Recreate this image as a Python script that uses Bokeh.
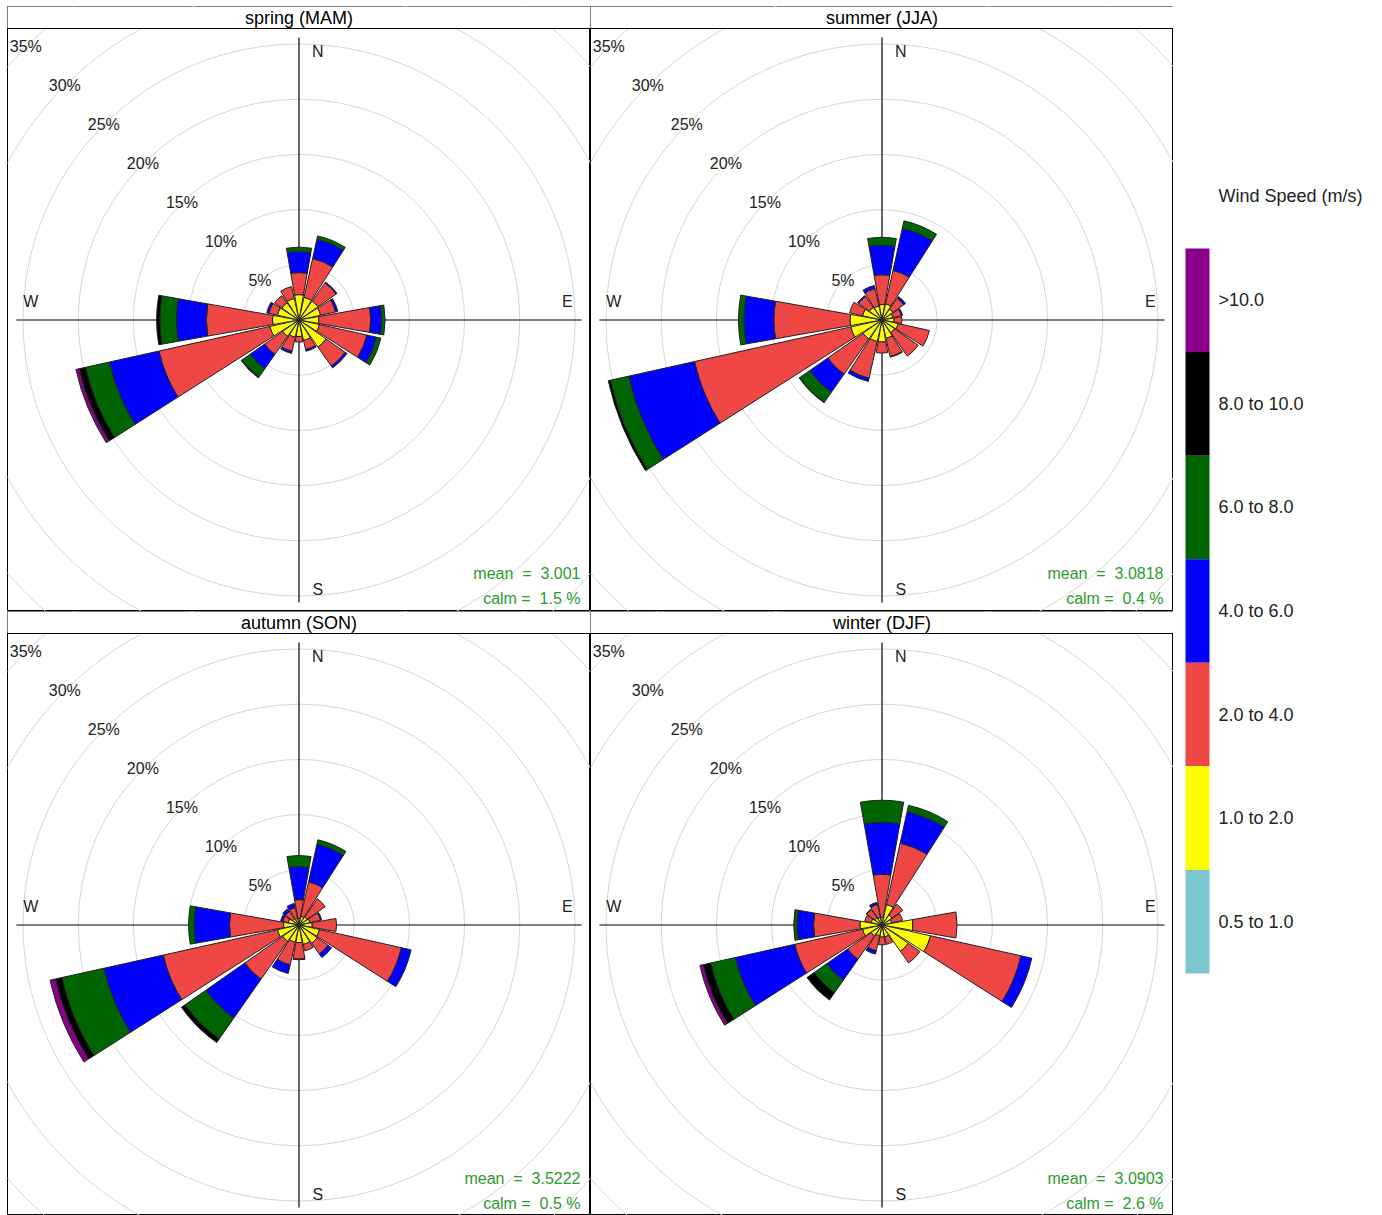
import math
from bokeh.plotting import figure
from bokeh.layouts import row, column
from bokeh.models import Range1d, ColumnDataSource
from bokeh.core.properties import value
from bokeh.embed import file_html
from bokeh.resources import INLINE

# ---------------- data ----------------
DIRECTIONS = ["N", "NNE", "NE", "ENE", "E", "ESE", "SE", "SSE",
              "S", "SSW", "SW", "WSW", "W", "WNW", "NW", "NNW"]
DIR_DEG = [0.0, 22.5, 45.0, 67.5, 90.0, 112.5, 135.0, 157.5,
           180.0, 202.5, 225.0, 247.5, 270.0, 292.5, 315.0, 337.5]
SPEED_BINS = ["0.5 to 1.0", "1.0 to 2.0", "2.0 to 4.0", "4.0 to 6.0",
              "6.0 to 8.0", "8.0 to 10.0", ">10.0"]
BIN_COLORS = ["#7BC6CF", "#FFFF00", "#EF4646", "#0000FF", "#006400", "#000000", "#8B008B"]

SEASONS = ["spring (MAM)", "summer (JJA)", "autumn (SON)", "winter (DJF)"]
MEANS = ["3.001", "3.0818", "3.5222", "3.0903"]
CALMS = ["1.5", "0.4", "0.5", "2.6"]

# frequency (%) per speed bin (rows) and direction (columns)
spring = [
    [0.2, 0.2, 0.2, 0.2, 0.2, 0.2, 0.2, 0.2, 0.2, 0.2, 0.2, 0.2, 0.2, 0.2, 0.2, 0.2],
    [2.1, 1.9, 1.9, 1.8, 1.6, 1.7, 2.8, 1.7, 1.3, 1.4, 1.6, 2.5, 2.2, 1.8, 1.7, 1.8],
    [2.0, 3.6, 2.0, 1.4, 4.7, 4.4, 2.1, 0.85, 0.5, 1.3, 2.0, 10.3, 6.0, 0.8, 0.8, 1.1],
    [1.9, 1.8, 0.1, 0.2, 1.0, 0.9, 0.2, 0.15, 0.0, 0.2, 1.6, 4.6, 2.7, 0.2, 0.0, 0.0],
    [0.4, 0.3, 0.0, 0.0, 0.3, 0.4, 0.0, 0.0, 0.0, 0.0, 0.9, 2.2, 1.5, 0.0, 0.0, 0.0],
    [0.0, 0.0, 0.0, 0.0, 0.0, 0.0, 0.0, 0.0, 0.0, 0.0, 0.1, 0.6, 0.3, 0.0, 0.0, 0.0],
    [0.0, 0.0, 0.0, 0.0, 0.0, 0.0, 0.0, 0.0, 0.0, 0.0, 0.0, 0.3, 0.0, 0.0, 0.0, 0.0],
]
summer = [
    [0.2, 0.2, 0.2, 0.2, 0.2, 0.2, 0.2, 0.2, 0.2, 0.2, 0.2, 0.2, 0.2, 0.2, 0.2, 0.2],
    [1.2, 1.3, 1.0, 0.8, 0.9, 1.3, 1.2, 1.5, 1.8, 1.8, 1.9, 2.7, 2.7, 1.6, 1.2, 1.1],
    [2.7, 3.1, 1.2, 0.8, 0.7, 2.9, 2.6, 1.7, 1.0, 3.4, 3.9, 14.5, 6.9, 1.2, 1.2, 1.6],
    [2.7, 3.9, 0.2, 0.1, 0.0, 0.0, 0.0, 0.05, 0.0, 0.3, 2.0, 6.1, 2.7, 0.0, 0.1, 0.3],
    [0.7, 0.7, 0.0, 0.0, 0.0, 0.0, 0.0, 0.0, 0.0, 0.0, 1.1, 1.7, 0.5, 0.0, 0.0, 0.0],
    [0.0, 0.0, 0.0, 0.0, 0.0, 0.0, 0.0, 0.0, 0.0, 0.0, 0.05, 0.2, 0.0, 0.0, 0.0, 0.0],
    [0.0, 0.0, 0.0, 0.0, 0.0, 0.0, 0.0, 0.0, 0.0, 0.0, 0.0, 0.0, 0.0, 0.0, 0.0, 0.0],
]
autumn = [
    [0.2, 0.2, 0.2, 0.2, 0.2, 0.2, 0.2, 0.2, 0.2, 0.2, 0.2, 0.2, 0.2, 0.2, 0.2, 0.2],
    [0.4, 0.6, 0.7, 0.8, 1.0, 1.7, 1.8, 1.6, 1.4, 1.4, 1.6, 1.8, 1.2, 0.8, 0.5, 0.4],
    [1.7, 3.2, 2.0, 1.0, 2.2, 7.6, 1.2, 0.6, 1.5, 2.1, 4.2, 10.6, 4.9, 0.5, 0.8, 1.0],
    [3.0, 3.5, 0.0, 0.1, 0.0, 0.9, 0.4, 0.0, 0.05, 0.8, 4.3, 5.5, 3.2, 0.2, 0.3, 0.4],
    [1.0, 0.4, 0.0, 0.0, 0.0, 0.0, 0.0, 0.0, 0.0, 0.0, 2.3, 3.9, 0.5, 0.0, 0.0, 0.0],
    [0.0, 0.0, 0.0, 0.0, 0.0, 0.0, 0.0, 0.0, 0.0, 0.0, 0.4, 0.6, 0.0, 0.0, 0.0, 0.0],
    [0.0, 0.0, 0.0, 0.0, 0.0, 0.0, 0.0, 0.0, 0.0, 0.0, 0.0, 0.5, 0.0, 0.0, 0.0, 0.0],
]
winter = [
    [0.2, 0.2, 0.2, 0.2, 0.2, 0.2, 0.2, 0.2, 0.2, 0.2, 0.2, 0.2, 0.2, 0.2, 0.2, 0.2],
    [0.5, 1.7, 0.9, 0.7, 2.6, 4.3, 2.7, 0.9, 0.9, 0.8, 1.0, 1.6, 1.8, 0.8, 0.6, 0.5],
    [3.9, 5.7, 1.2, 1.0, 4.0, 8.4, 1.3, 0.7, 0.7, 1.4, 2.6, 6.3, 4.2, 0.6, 0.9, 1.2],
    [4.7, 2.9, 0.0, 0.0, 0.0, 1.0, 0.0, 0.0, 0.0, 0.3, 2.3, 5.5, 1.5, 0.0, 0.05, 0.2],
    [2.0, 0.6, 0.0, 0.0, 0.0, 0.0, 0.0, 0.0, 0.0, 0.0, 1.4, 2.3, 0.3, 0.0, 0.0, 0.0],
    [0.0, 0.0, 0.0, 0.0, 0.0, 0.0, 0.0, 0.0, 0.0, 0.0, 0.8, 0.7, 0.0, 0.0, 0.0, 0.0],
    [0.0, 0.0, 0.0, 0.0, 0.0, 0.0, 0.0, 0.0, 0.0, 0.0, 0.0, 0.3, 0.0, 0.0, 0.0, 0.0],
]
SEASON_DATA = [spring, summer, autumn, winter]

RINGS = [5, 10, 15, 20, 25, 30, 35]
RING_LABELS = ["5%", "10%", "15%", "20%", "25%", "30%", "35%"]

# ---------------- layout / style ----------------
PX = 11.04          # pixels per percent
PANEL = 583         # panel size (px)
STRIP = 22          # strip height (px)
HALF_WEDGE = 10.0   # degrees
AXIS_LEN = 25.6     # axis half length (%)
FONT = value("Liberation Sans")
RING_COLOR = "#D6D6D6"
TXT_GREEN = "#2E9B2E"
TOP_MARGIN = 6
LEFT_MARGIN = 7


def make_panel(title, freqs, mean, calm, height):
    half = PANEL / 2 / PX
    top_px = STRIP + PANEL / 2
    p = figure(width=PANEL, height=height, output_backend="svg", toolbar_location=None,
               x_range=Range1d(-half, half),
               y_range=Range1d(-(height - top_px) / PX, top_px / PX),
               min_border=0, outline_line_color="black", outline_line_width=1)
    p.axis.visible = False
    p.grid.visible = False
    p.background_fill_color = "white"
    p.border_fill_color = "white"

    # rings
    p.circle(x=[0] * len(RINGS), y=[0] * len(RINGS), radius=RINGS,
             fill_color=None, line_color=RING_COLOR, line_width=1)
    # cross axes
    p.segment(x0=[-AXIS_LEN, 0], y0=[0, -AXIS_LEN], x1=[AXIS_LEN, 0], y1=[0, AXIS_LEN],
              line_color="black", line_width=1.2)

    # wedges
    inner, outer, start, end, cols = [], [], [], [], []
    for i, d in enumerate(DIR_DEG):
        cum = 0.0
        for b in range(len(SPEED_BINS)):
            v = freqs[b][i]
            if v <= 0:
                continue
            inner.append(cum)
            outer.append(cum + v)
            cum += v
            start.append(math.radians(90 - d - HALF_WEDGE))
            end.append(math.radians(90 - d + HALF_WEDGE))
            cols.append(BIN_COLORS[b])
    src = ColumnDataSource(dict(x=[0] * len(inner), y=[0] * len(inner), ir=inner, orr=outer,
                                sa=start, ea=end, c=cols))
    p.annular_wedge(x="x", y="y", inner_radius="ir", outer_radius="orr",
                    start_angle="sa", end_angle="ea", fill_color="c",
                    line_color="#222222", line_width=1, source=src)

    # ring labels along NW diagonal
    k = math.sqrt(0.5)
    p.text(x=[-r * k for r in RINGS], y=[r * k for r in RINGS], text=RING_LABELS,
           text_font=FONT, text_font_size="16px", text_color="#222222",
           text_align="center", text_baseline="middle")

    # compass labels
    off = 1.7
    far = 24.3
    p.text(x=[off, far, off, -far], y=[far, off, -far - 0.1, off], text=["N", "E", "S", "W"],
           text_font=FONT, text_font_size="16px", text_color="#222222",
           text_align="center", text_baseline="middle")

    # mean / calm
    p.text(x=[25.5, 25.5], y=[-23.0, -25.2],
           text=["mean\u00a0\u00a0=\u00a0\u00a0" + mean, "calm\u00a0=\u00a0\u00a0" + calm + "\u00a0%"],
           text_font=FONT, text_font_size="16px", text_color=TXT_GREEN,
           text_align="right", text_baseline="middle")

    # strip with title
    p.quad(left=[-half - 1], right=[half + 1], bottom=[PANEL / 2 / PX], top=[top_px / PX + 1],
           fill_color="white", line_color="black", line_width=1)
    p.text(x=[0], y=[(PANEL / 2 + STRIP / 2) / PX], text=[title],
           text_font=FONT, text_font_size="18px", text_color="black",
           text_align="center", text_baseline="middle")
    return p


TOTAL_H = 1215 - TOP_MARGIN
TOP_H = STRIP + PANEL
BOT_H = TOTAL_H - TOP_H

panels = []
for idx, (t, f, m, c) in enumerate(zip(SEASONS, SEASON_DATA, MEANS, CALMS)):
    panels.append(make_panel(t, f, m, c, TOP_H if idx < 2 else BOT_H))

# ---------------- colour key ----------------
CB_W = 1382 - LEFT_MARGIN - 2 * PANEL
cb = figure(width=CB_W, height=TOTAL_H, output_backend="svg", toolbar_location=None,
            x_range=Range1d(0, CB_W), y_range=Range1d(TOTAL_H, 0),
            min_border=0, outline_line_color=None)
cb.axis.visible = False
cb.grid.visible = False

BAR_TOP = 242
BAR_BOTTOM = 967
n = len(SPEED_BINS)
seg = (BAR_BOTTOM - BAR_TOP) / n
labels_top_down = SPEED_BINS[::-1]
colors_top_down = BIN_COLORS[::-1]
cb.quad(left=[12] * n, right=[36] * n,
        top=[BAR_TOP + i * seg for i in range(n)],
        bottom=[BAR_TOP + (i + 1) * seg for i in range(n)],
        fill_color=colors_top_down, line_color=None)
cb.text(x=[45] * n, y=[BAR_TOP + (i + 0.5) * seg for i in range(n)], text=labels_top_down,
        text_font=FONT, text_font_size="18px", text_color="#222222",
        text_align="left", text_baseline="middle")
cb.text(x=[45], y=[189], text=["Wind Speed (m/s)"],
        text_font=FONT, text_font_size="18px", text_color="#222222",
        text_align="left", text_baseline="middle")

grid = column(row(panels[0], panels[1], spacing=0), row(panels[2], panels[3], spacing=0), spacing=0)
page = row(grid, cb, spacing=0, margin=(TOP_MARGIN, 0, 0, LEFT_MARGIN))

open("out.html", "w").write(file_html(page, INLINE))
